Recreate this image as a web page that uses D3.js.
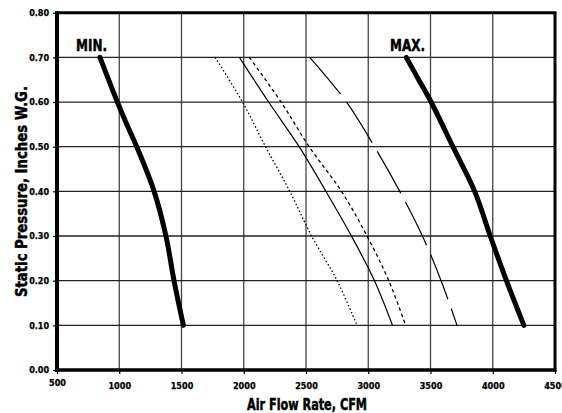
<!DOCTYPE html>
<html><head><meta charset="utf-8">
<script src="https://cdn.jsdelivr.net/npm/d3@7"></script>
<style>
html,body{margin:0;padding:0;background:#fff;}
text{font-family:"Liberation Sans Narrow","DejaVu Sans Condensed","Arial Narrow",sans-serif;font-weight:bold;font-stretch:condensed;fill:#000;}
.heavy{stroke:#000;stroke-width:0.45px;}
</style></head>
<body><svg id="c" width="562" height="413"></svg>
<script>
const xTicks = [500,1000,1500,2000,2500,3000,3500,4000,4500];
const yTicks = [0,0.1,0.2,0.3,0.4,0.5,0.6,0.7,0.8];
const minCurve = [[845,0.70],[985,0.60],[1060,0.55],[1140,0.50],[1280,0.40],[1375,0.30],[1440,0.20],[1515,0.10]];
const maxCurve = [[3305,0.70],[3405,0.65],[3505,0.60],[3680,0.50],[3855,0.40],[3980,0.30],[4110,0.20],[4250,0.10]];
const dottedCurve = [[1770,0.70],[1990,0.60],[2175,0.50],[2370,0.40],[2545,0.30],[2750,0.20],[2910,0.10]];
const solidCurve = [[1965,0.70],[2200,0.60],[2445,0.50],[2660,0.40],[2865,0.30],[3050,0.20],[3195,0.10]];
const dashedCurve = [[2045,0.70],[2300,0.60],[2525,0.50],[2785,0.40],[2990,0.30],[3165,0.20],[3300,0.10]];
const longDashCurve = [[2530,0.70],[2825,0.60],[3050,0.50],[3253,0.40],[3435,0.30],[3585,0.20],[3713,0.10]];
const xTitle = "Air Flow Rate, CFM";
const yTitle = "Static Pressure, Inches W.G.";

const svg = d3.select("#c");
const x = d3.scaleLinear().domain([500,4500]).range([57,555]);
const y = d3.scaleLinear().domain([0,0.8]).range([370,12.7]);

// grid
svg.append("g").selectAll("line").data(xTicks.slice(1,-1)).join("line")
  .attr("x1",d=>x(d)).attr("x2",d=>x(d)).attr("y1",y(0)).attr("y2",y(0.8))
  .attr("stroke","#444").attr("stroke-width",1.3);
svg.append("g").selectAll("line").data(yTicks.slice(1,-1)).join("line")
  .attr("y1",d=>y(d)).attr("y2",d=>y(d)).attr("x1",x(500)).attr("x2",x(4500))
  .attr("stroke","#222").attr("stroke-width",1.3);

// axes
const xa = svg.append("g").attr("transform",`translate(0,${y(0)})`)
  .call(d3.axisBottom(x).tickValues(xTicks).tickSize(4).tickFormat(d3.format("d")));
const ya = svg.append("g").attr("transform",`translate(${x(500)},0)`)
  .call(d3.axisLeft(y).tickValues(yTicks).tickSize(4).tickFormat(d3.format(".2f")));
[xa,ya].forEach(a=>{a.select(".domain").remove();a.selectAll(".tick line").attr("stroke","#000").attr("stroke-width",1.2);
  a.selectAll("text").style("font-size","9px").attr("fill","#000").attr("class","heavy").style("stroke-width","0.25px");});
xa.selectAll("text").attr("dy","1.35em");
xa.selectAll(".tick").filter(d=>d===500).select("text").attr("dy","1.05em");
ya.selectAll("text").attr("dx","-0.1em");

// border
svg.append("line").attr("x1",x(500)).attr("x2",x(500)).attr("y1",y(0.8)-1.5).attr("y2",y(0)+2).attr("stroke","#000").attr("stroke-width",4);
svg.append("line").attr("x1",x(500)-2).attr("x2",x(4500)+1.5).attr("y1",y(0)).attr("y2",y(0)).attr("stroke","#000").attr("stroke-width",3.5);
svg.append("line").attr("x1",x(500)).attr("x2",x(4500)+1.5).attr("y1",y(0.8)).attr("y2",y(0.8)).attr("stroke","#000").attr("stroke-width",3);
svg.append("line").attr("x1",x(4500)).attr("x2",x(4500)).attr("y1",y(0.8)).attr("y2",y(0)+1.5).attr("stroke","#000").attr("stroke-width",3);

// curves
const line = d3.line().x(d=>x(d[0])).y(d=>y(d[1])).curve(d3.curveCatmullRom.alpha(0.5));
const series = [
  {d:minCurve, w:5, dash:null},
  {d:maxCurve, w:5, dash:null},
  {d:dottedCurve, w:1.3, dash:"1.5,2.3"},
  {d:solidCurve, w:1.2, dash:null},
  {d:dashedCurve, w:1.3, dash:"3.5,3"},
  {d:longDashCurve, w:1.2, dash:"48,10"}
];
svg.append("g").selectAll("path").data(series).join("path")
  .attr("d",s=>line(s.d)).attr("fill","none").attr("stroke","#000")
  .attr("stroke-width",s=>s.w).attr("stroke-dasharray",s=>s.dash)
  .attr("stroke-linecap",s=>s.w>3?"round":"butt");

// labels
svg.append("text").attr("class","heavy").attr("x",76).attr("y",51).style("font-size","15px")
  .attr("textLength",31).attr("lengthAdjust","spacingAndGlyphs").text("MIN.");
svg.append("text").attr("class","heavy").attr("x",390).attr("y",51).style("font-size","15px")
  .attr("textLength",35).attr("lengthAdjust","spacingAndGlyphs").text("MAX.");
svg.append("text").attr("class","heavy").attr("x",247).attr("y",410).style("font-size","15.5px")
  .attr("textLength",120).attr("lengthAdjust","spacingAndGlyphs").text(xTitle);
svg.append("text").attr("class","heavy").attr("transform",`translate(27,297) rotate(-90)`).style("font-size","15.5px")
  .attr("textLength",211).attr("lengthAdjust","spacingAndGlyphs").text(yTitle);
</script></body></html>
